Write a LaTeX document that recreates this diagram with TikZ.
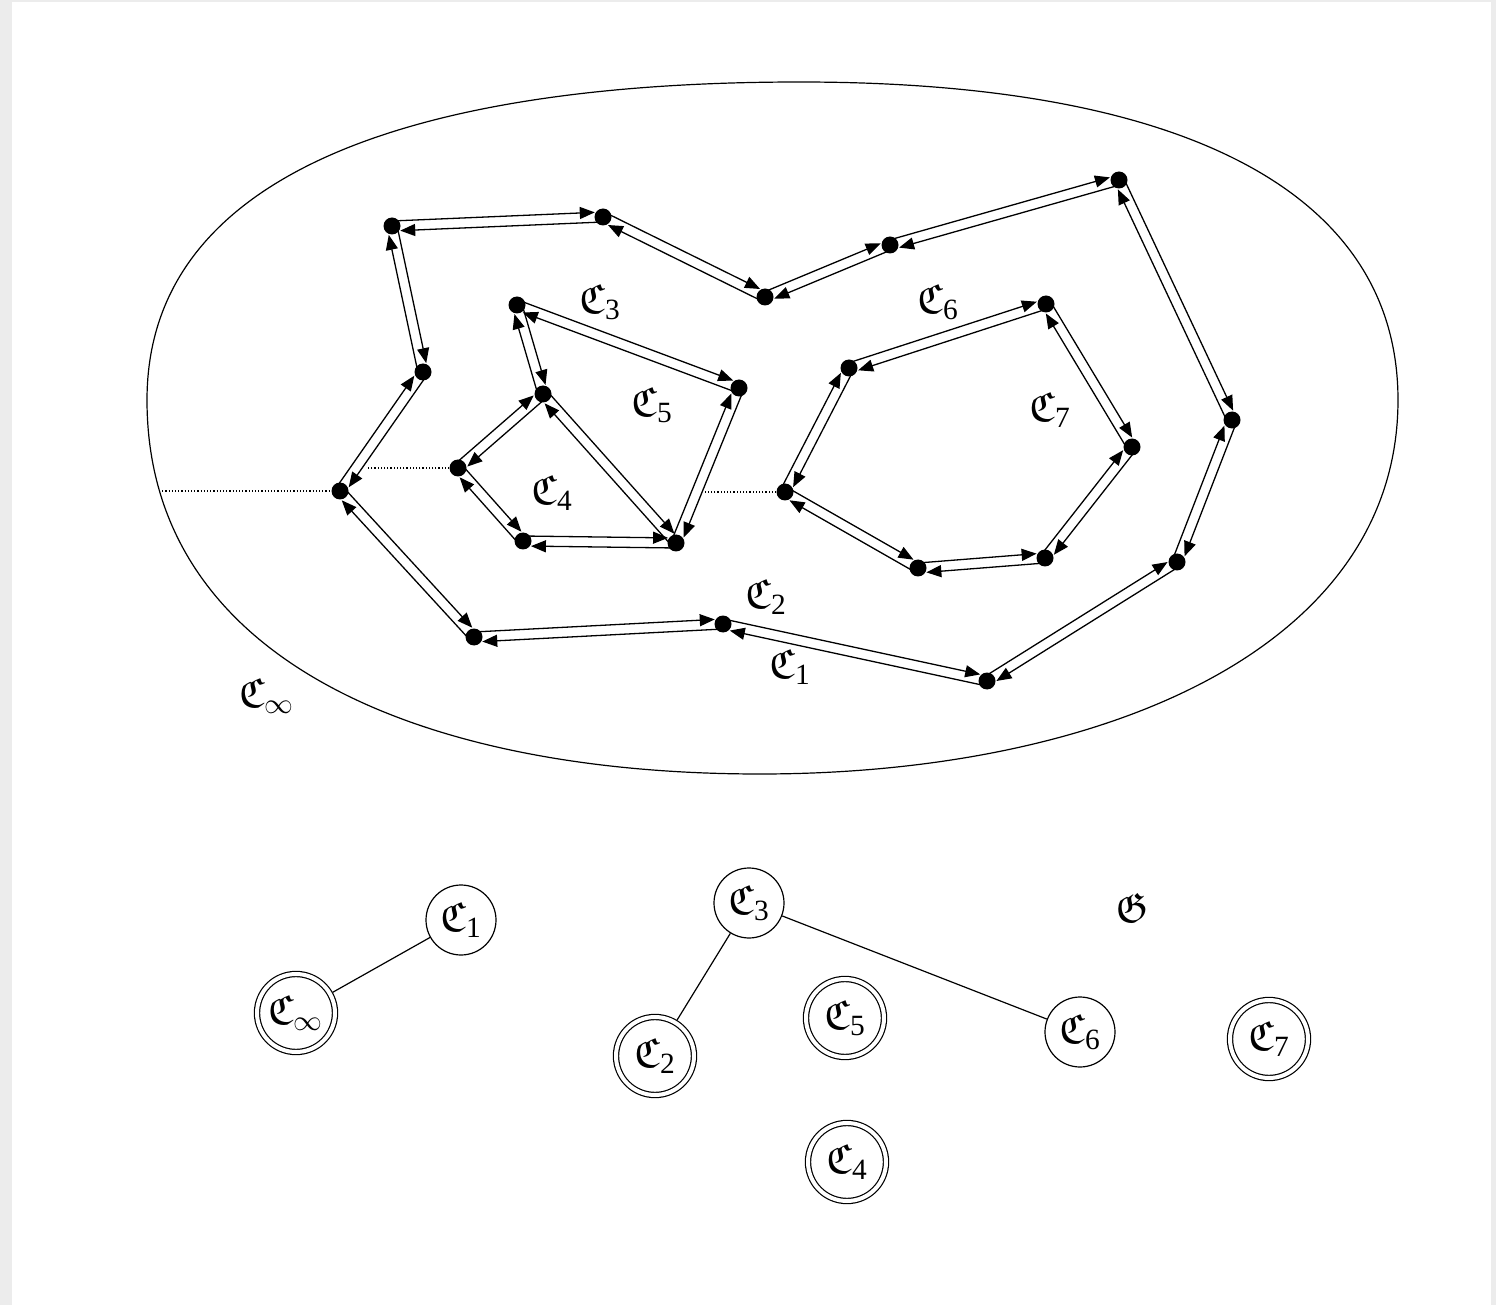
\documentclass[tikz,border=0pt]{standalone}
\usepackage{amsmath,amssymb}
\usepackage{fontspec}
\setmainfont{Liberation Serif}
\usetikzlibrary{calc,arrows.meta}
\pgfdeclarelayer{back}
\pgfdeclarelayer{edges}
\pgfsetlayers{back,edges,main}
\definecolor{framegray}{RGB}{236,236,236}

% distance of each half-edge from the edge it belongs to
\newcommand\heoff{2.5pt}
% both half-edges of the edge #1--#2, each drawn on its left side
\newcommand\halfedges[2]{%
  \draw[halfedge] ($(#1)!\heoff!90:(#2)$) -- ($(#2)!\heoff!-90:(#1)$);
  \draw[halfedge] ($(#2)!\heoff!90:(#1)$) -- ($(#1)!\heoff!-90:(#2)$);}
% name of a face
\newcommand\face[1]{$\mathfrak{C}_{\text{#1}}$}

\begin{document}
\begin{tikzpicture}[x=0.5pt, y=-0.5pt,
  font=\fontsize{21}{25}\selectfont,
  vertex/.style={circle, fill=black, inner sep=0pt, minimum size=8.5pt},
  halfedge/.style={line width=0.65pt, shorten <=3pt, shorten >=4pt,
    -{Triangle[length=7.5pt,width=6pt]}},
  face/.style={inner sep=0pt},
  tnode/.style={circle, draw, line width=0.6pt, minimum size=35pt, inner sep=0pt},
  tleaf/.style={circle, draw, double, double distance=2pt, line width=0.6pt,
    minimum size=39pt, inner sep=0pt, outer sep=1.6pt},
  link/.style={line width=0.6pt},
  gap/.style={densely dotted, line width=0.6pt}]

\useasboundingbox (0,0) rectangle (1496,1305);
\begin{pgfonlayer}{back}
  \fill[framegray] (0,0) rectangle (1496,1305);
  \fill[white] (12,2) rectangle (1491,1305);
\end{pgfonlayer}

% outer boundary of the plane region
\draw[line width=0.6pt]
  (147,400) .. controls (147,170) and (420,82) .. (800,82)
            .. controls (1180,82) and (1398,190) .. (1398,400)
            .. controls (1398,650) and (1100,774) .. (760,774)
            .. controls (420,774) and (147,660) .. cycle;

% outer component
\node[vertex] (a1) at (392,226) {};
\node[vertex] (a2) at (603,217) {};
\node[vertex] (a3) at (765,297) {};
\node[vertex] (a4) at (890,245) {};
\node[vertex] (a5) at (1119,180) {};
\node[vertex] (a6) at (1232,420) {};
\node[vertex] (a7) at (1177,562) {};
\node[vertex] (a8) at (987,681) {};
\node[vertex] (a9) at (723,624) {};
\node[vertex] (a10) at (474,637) {};
\node[vertex] (a11) at (340,491) {};
\node[vertex] (a12) at (423,372) {};

% left inner component
\node[vertex] (b1) at (517,305) {};
\node[vertex] (b2) at (739,388) {};
\node[vertex] (b3) at (676,543) {};
\node[vertex] (b4) at (523,541) {};
\node[vertex] (b5) at (458,468) {};
\node[vertex] (b6) at (543,394) {};

% right inner component
\node[vertex] (d1) at (849,368) {};
\node[vertex] (d2) at (1046,304) {};
\node[vertex] (d3) at (1132,447) {};
\node[vertex] (d4) at (1045,558) {};
\node[vertex] (d5) at (918,568) {};
\node[vertex] (d6) at (785,492) {};

\coordinate (o1) at (159,491);
\coordinate (o2) at (368,468);
\coordinate (o3) at (705,492);

\begin{pgfonlayer}{edges}
  \halfedges{a1}{a2}  \halfedges{a2}{a3}  \halfedges{a3}{a4}
  \halfedges{a4}{a5}  \halfedges{a5}{a6}  \halfedges{a6}{a7}
  \halfedges{a7}{a8}  \halfedges{a8}{a9}  \halfedges{a9}{a10}
  \halfedges{a10}{a11} \halfedges{a11}{a12} \halfedges{a12}{a1}
  \halfedges{b1}{b2}  \halfedges{b2}{b3}  \halfedges{b3}{b6}
  \halfedges{b6}{b1}  \halfedges{b6}{b5}  \halfedges{b5}{b4}
  \halfedges{b4}{b3}
  \halfedges{d1}{d2}  \halfedges{d2}{d3}  \halfedges{d3}{d4}
  \halfedges{d4}{d5}  \halfedges{d5}{d6}  \halfedges{d6}{d1}
  % visibility segments to the left of each component
  \draw[gap] (o1) -- (a11);
  \draw[gap] (b5) -- (o2);
  \draw[gap] (d6) -- (o3);
\end{pgfonlayer}

% face labels
\node[face] (f3) at (600,302) {\face{3}};
\node[face] (f5) at (652,405) {\face{5}};
\node[face] (f4) at (552,493) {\face{4}};
\node[face] (f6) at (938,302) {\face{6}};
\node[face] (f7) at (1050,410) {\face{7}};
\node[face] (f2) at (766,597) {\face{2}};
\node[face] (f1) at (790,667) {\face{1}};
\node[face] (finf) at (267,696) {$\mathfrak{C}_\infty$};

% graph of faces
\node[tnode] (t1) at (461,920) {\face{1}};
\node[tleaf] (tinf) at (296,1013) {$\mathfrak{C}_\infty$};
\node[tnode] (t3) at (749,903) {\face{3}};
\node[tleaf] (t2) at (655,1056) {\face{2}};
\node[tleaf] (t5) at (845,1018) {\face{5}};
\node[tnode] (t6) at (1080,1032) {\face{6}};
\node[tleaf] (t7) at (1269,1039) {\face{7}};
\node[tleaf] (t4) at (847,1162) {\face{4}};
\node[face] (g) at (1132,908) {$\mathfrak{G}$};

\draw[link] (tinf) -- (t1);
\draw[link] (t3) -- (t2);
\draw[link] (t3) -- (t6);
\end{tikzpicture}
\end{document}
